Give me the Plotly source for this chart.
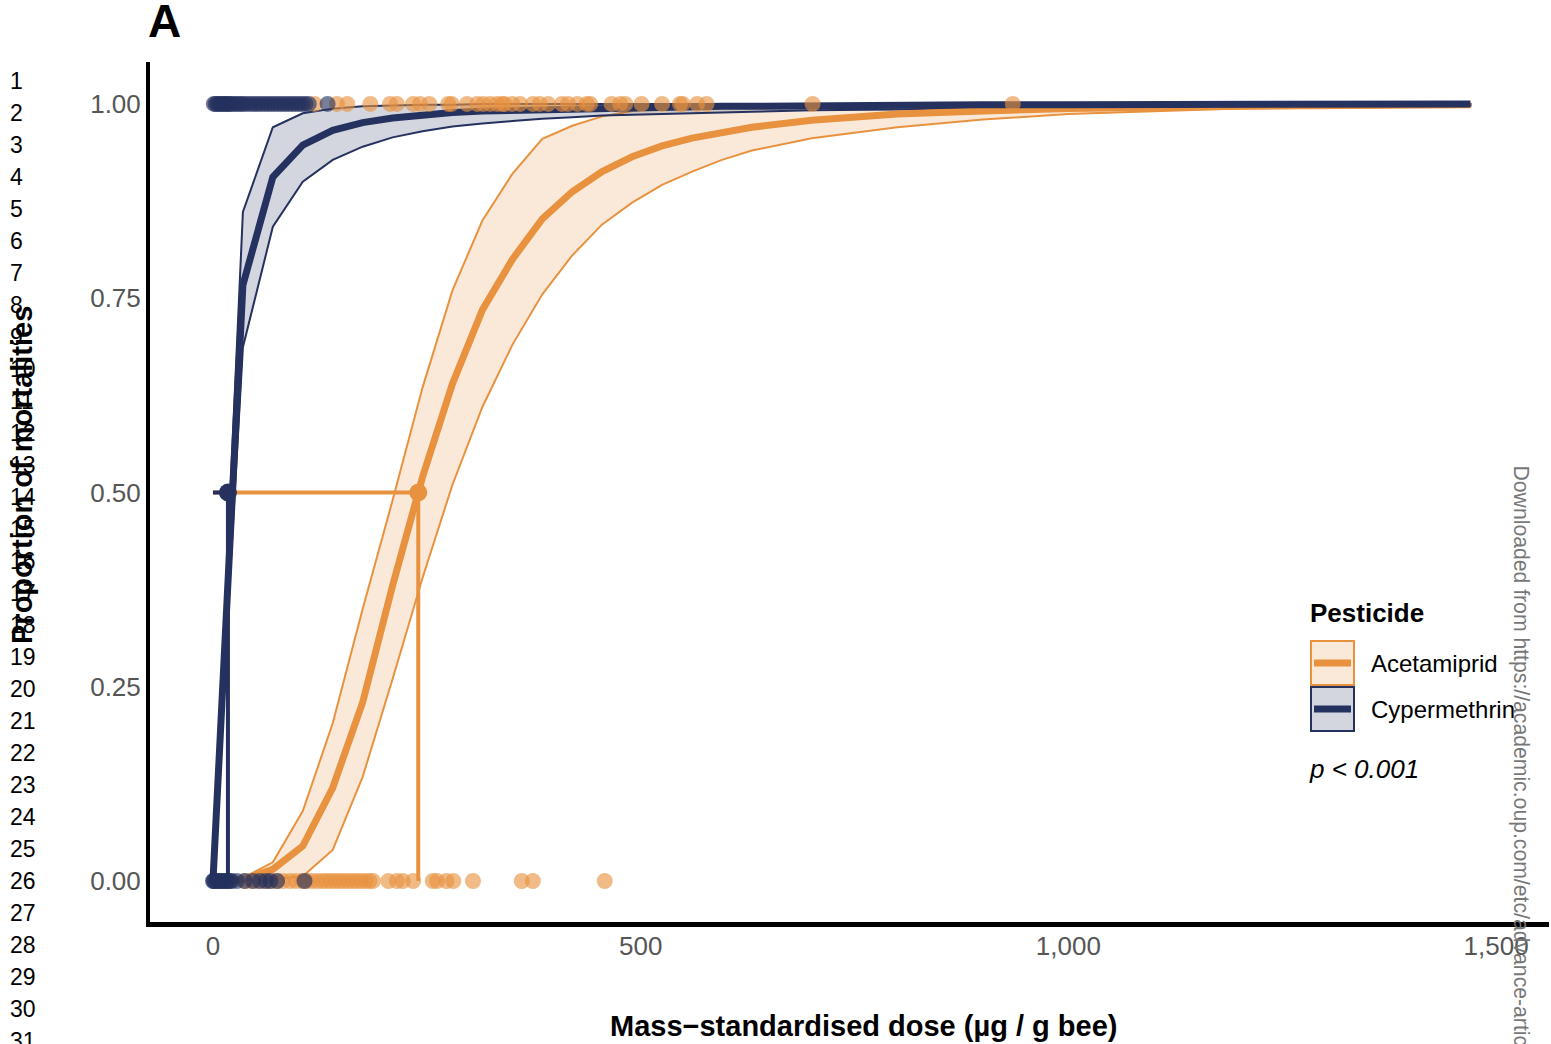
import plotly.graph_objects as go

# ---------------- data ----------------
# fitted dose-response curves (dose grid, fitted proportion, 95% CI)
dose_grid = [0, 35, 70, 105, 140, 175, 210, 245, 280, 315, 350, 385, 420, 455,
             490, 525, 560, 595, 630, 700, 800, 900, 1000, 1200, 1470]

acet_fit = [0, 0.002, 0.015, 0.045, 0.12, 0.23, 0.38, 0.52, 0.64, 0.735, 0.80,
            0.852, 0.887, 0.913, 0.932, 0.946, 0.956, 0.964, 0.97, 0.979, 0.987,
            0.991, 0.994, 0.997, 0.999]
acet_upper = [0, 0.004, 0.024, 0.09, 0.203, 0.35, 0.49, 0.635, 0.76, 0.85, 0.91,
              0.955, 0.972, 0.984, 0.991, 0.995, 0.998, 0.999, 1.0, 1.0, 1.0,
              1.0, 1.0, 1.0, 1.0]
acet_lower = [0, 0.0, 0.002, 0.006, 0.04, 0.134, 0.26, 0.39, 0.51, 0.61, 0.69,
              0.755, 0.805, 0.845, 0.873, 0.896, 0.913, 0.928, 0.94, 0.956, 0.97,
              0.98, 0.987, 0.994, 0.997]

cyp_fit = [0, 0.767, 0.906, 0.947, 0.966, 0.976, 0.982, 0.986, 0.989, 0.991,
           0.992, 0.993, 0.994, 0.995, 0.996, 0.996, 0.997, 0.997, 0.997, 0.998,
           0.998, 0.999, 0.999, 0.999, 1.0]
cyp_upper = [0, 0.861, 0.97, 0.988, 0.994, 0.997, 0.998, 0.999, 0.999, 1.0,
             1.0, 1.0, 1.0, 1.0, 1.0, 1.0, 1.0, 1.0, 1.0, 1.0, 1.0, 1.0, 1.0,
             1.0, 1.0]
cyp_lower = [0, 0.687, 0.842, 0.90, 0.928, 0.945, 0.957, 0.965, 0.971, 0.975,
             0.978, 0.981, 0.983, 0.985, 0.986, 0.987, 0.988, 0.989, 0.99, 0.992,
             0.993, 0.995, 0.996, 0.997, 0.998]

# LD50 estimates (µg / g bee)
acet_ld50 = 240
cyp_ld50 = 17.5

# observed individual outcomes (dose of each bee, dead = 1 / alive = 0)
acet_dead = [119, 145, 157, 184, 207, 215, 234, 242, 253, 275, 279, 297, 309,
             316, 324, 332, 338, 341, 350, 359, 374, 382, 392, 408, 415, 426,
             437, 441, 466, 476, 482, 501, 525, 546, 549, 566, 577, 701, 935]
acet_alive = [38, 45, 52, 60, 68, 75, 82, 90, 97, 104, 110, 116, 122, 128, 133,
              138, 143, 148, 153, 158, 163, 168, 173, 178, 183, 187, 205, 215,
              222, 234, 257, 262, 273, 281, 304, 361, 374, 458]
cyp_dead = [1, 3, 5, 7, 9, 11, 13, 15, 17, 19, 21, 24, 27, 30, 33, 36, 40, 44,
            48, 52, 56, 60, 64, 68, 72, 76, 80, 84, 88, 92, 96, 100, 104, 108,
            112, 134]
cyp_alive = [0, 1, 2, 4, 6, 8, 10, 12, 14, 16, 18, 20, 22, 28, 37, 47, 55, 62,
             67, 75, 107]

pesticides = ["Acetamiprid", "Cypermethrin"]
p_label = "p < 0.001"

y_ticks = [0, 0.25, 0.5, 0.75, 1.0]
x_ticks = [0, 500, 1000, 1500]
x_tick_text = ["0", "500", "1,000", "1,500"]

# ---------------- styling ----------------
ORANGE = "#E8923F"
NAVY = "#25315E"
ORANGE_FILL = "rgba(232,146,63,0.2)"
NAVY_FILL = "rgba(37,49,94,0.2)"
FONT = "Liberation Sans, Arial, sans-serif"

W, H = 1551, 1044
L, R, T, B = 150, 1548, 62, 925          # panel edges in pixels


def fx(xp):
    return (xp - L) / (R - L)


def fy(yp):
    return (B - yp) / (B - T)


fig = go.Figure()

# confidence ribbons
for fit_lo, fit_hi, col, fill in [(acet_lower, acet_upper, ORANGE, ORANGE_FILL),
                                  (cyp_lower, cyp_upper, NAVY, NAVY_FILL)]:
    fig.add_trace(go.Scatter(
        x=dose_grid + dose_grid[::-1],
        y=fit_hi + fit_lo[::-1],
        mode="lines", fill="toself", fillcolor=fill,
        line=dict(color=col, width=2), hoverinfo="skip", showlegend=False))

# fitted curves
for fit, col in [(acet_fit, ORANGE), (cyp_fit, NAVY)]:
    fig.add_trace(go.Scatter(x=dose_grid, y=fit, mode="lines",
                             line=dict(color=col, width=7),
                             showlegend=False))

# LD50 guide lines and points
for ld, col in [(acet_ld50, ORANGE), (cyp_ld50, NAVY)]:
    fig.add_trace(go.Scatter(x=[0, ld, ld], y=[0.5, 0.5, 0], mode="lines",
                             line=dict(color=col, width=4), showlegend=False))
    fig.add_trace(go.Scatter(x=[ld], y=[0.5], mode="markers",
                             marker=dict(color=col, size=18), showlegend=False))

# observed outcomes
for dead, alive, col in [(acet_dead, acet_alive, ORANGE),
                         (cyp_dead, cyp_alive, NAVY)]:
    fig.add_trace(go.Scatter(
        x=dead + alive, y=[1] * len(dead) + [0] * len(alive),
        mode="markers",
        marker=dict(color=col, size=14, opacity=0.62,
                    line=dict(color=col, width=2)),
        showlegend=False))

fig.update_layout(
    width=W, height=H,
    margin=dict(l=L, r=W - R, t=T, b=H - B, pad=0),
    plot_bgcolor="white", paper_bgcolor="white",
    font=dict(family=FONT, color="black"),
    showlegend=False,
    xaxis=dict(range=[-73.6, 1560.7], tickvals=x_ticks, ticktext=x_tick_text,
               showgrid=False, zeroline=False, showline=False, ticks="",
               ticklabelstandoff=3,
               tickfont=dict(size=26, color="#555555", family=FONT)),
    yaxis=dict(range=[-0.0566, 1.054], tickvals=y_ticks,
               ticktext=[f"{v:.2f}" for v in y_ticks],
               showgrid=False, zeroline=False, showline=True,
               linecolor="black", linewidth=4, ticks="",
               tickfont=dict(size=26, color="#555555", family=FONT)),
)

shapes = []
# bottom axis line
shapes.append(dict(type="line", xref="paper", yref="paper",
                   x0=fx(146), x1=fx(1549), y0=fy(924.5), y1=fy(924.5),
                   line=dict(color="black", width=5)))

ann = []
# panel letter
ann.append(dict(x=fx(146), y=fy(21), xref="paper", yref="paper",
                text="<b>A</b>", showarrow=False, xanchor="left",
                yanchor="middle", font=dict(size=46, family=FONT)))
# manuscript line numbers
for n in range(1, 32):
    ann.append(dict(x=fx(8), y=fy(81 + 32 * (n - 1)), xref="paper",
                    yref="paper", text=str(n), showarrow=False,
                    xanchor="left", yanchor="middle",
                    font=dict(size=23, family=FONT, color="black")))
# axis titles
ann.append(dict(x=fx(22), y=fy(475), xref="paper", yref="paper",
                text="<b>Proportion of mortalities</b>", showarrow=False,
                textangle=-90, xanchor="center", yanchor="middle",
                font=dict(size=29, family=FONT)))
ann.append(dict(x=fx(863), y=fy(1026), xref="paper", yref="paper",
                text="<b>Mass\u2212standardised dose (µg / g bee)</b>",
                showarrow=False, xanchor="center", yanchor="middle",
                font=dict(size=29, family=FONT)))
# legend
ann.append(dict(x=fx(1308), y=fy(613), xref="paper", yref="paper",
                text="<b>Pesticide</b>", showarrow=False, xanchor="left",
                yanchor="middle", font=dict(size=26, family=FONT)))
for i, (name, col, fill) in enumerate(zip(pesticides, [ORANGE, NAVY],
                                          [ORANGE_FILL, NAVY_FILL])):
    top = 641 + 46 * i
    bot = top + 44
    mid = (top + bot) / 2
    shapes.append(dict(type="rect", xref="paper", yref="paper",
                       x0=fx(1311), x1=fx(1354), y0=fy(bot), y1=fy(top),
                       line=dict(color=col, width=2), fillcolor=fill))
    shapes.append(dict(type="line", xref="paper", yref="paper",
                       x0=fx(1314), x1=fx(1351), y0=fy(mid), y1=fy(mid),
                       line=dict(color=col, width=7)))
    ann.append(dict(x=fx(1369), y=fy(mid), xref="paper", yref="paper",
                    text=name, showarrow=False, xanchor="left",
                    yanchor="middle", font=dict(size=24, family=FONT)))
ann.append(dict(x=fx(1307), y=fy(769), xref="paper", yref="paper",
                text=f"<i>{p_label}</i>", showarrow=False, xanchor="left",
                yanchor="middle", font=dict(size=26, family=FONT)))
# repository watermark along the right edge
ann.append(dict(x=fx(1521), y=fy(463), xref="paper", yref="paper",
                text="Downloaded from https://academic.oup.com/etc/advance-article",
                showarrow=False, textangle=90, xanchor="center",
                yanchor="top", font=dict(size=21.2, family=FONT, color="#777777")))

fig.update_layout(annotations=ann, shapes=shapes)
fig.write_html("out.html")
